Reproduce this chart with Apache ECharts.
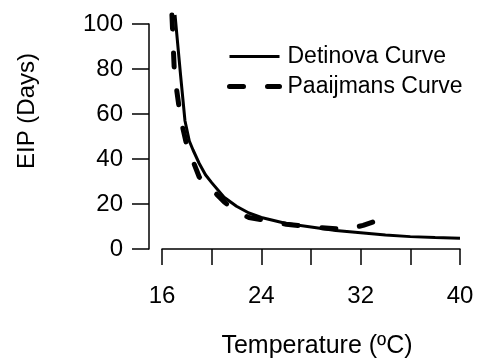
<!DOCTYPE html>
<html>
<head>
<meta charset="utf-8">
<script src="https://cdn.jsdelivr.net/npm/echarts@6/dist/echarts.min.js"></script>
<style>
  html, body { margin: 0; padding: 0; background: #fff; }
  #chart { width: 478px; height: 359px; }
</style>
</head>
<body>
<div id="chart"></div>
<script>
// values
const detinovaCurve = [
  [17.05, 104], [17.5, 77], [17.85, 57], [18.2, 48], [18.5, 44], [19, 38], [19.5, 33],
  [20, 29.5], [21, 23], [22, 19], [23, 16], [24, 14], [26, 11.3],
  [28, 9.8], [30, 8.2], [32, 7.2], [34, 6.2], [36, 5.5], [38, 5.1], [40, 4.8]
];
const paaijmansCurve = [
  [16.8, 104], [17.0, 78], [17.5, 58], [18, 46], [18.5, 39], [19, 32],
  [20, 26.5], [21, 21], [22, 16.5], [23, 14], [24, 13], [26, 11],
  [28, 9.8], [30, 9], [30.7, 8.5], [32.2, 10.5], [34, 14]
];
const xLabelsShown = [16, 24, 32, 40];

const font = '"Liberation Sans", Arial, Helvetica, sans-serif';
const solidStyle = { color: '#000', width: 3 };
const dashStyle = { color: '#000', width: 5, type: [14, 24], cap: 'round' };

const chart = echarts.init(document.getElementById('chart'));

chart.setOption({
  animation: false,
  color: ['#000', '#000'],
  legend: {
    orient: 'vertical',
    left: 222,
    top: 40,
    itemWidth: 50,
    itemHeight: 14,
    itemGap: 7,
    data: [
      { name: 'Detinova Curve', lineStyle: solidStyle },
      { name: 'Paaijmans Curve', lineStyle: dashStyle }
    ],
    itemStyle: { opacity: 0 },
    textStyle: { fontFamily: font, fontSize: 23, color: '#000', padding: [0, 0, 0, 3] }
  },
  grid: { left: 162, right: 18, top: 24, bottom: 110 },
  xAxis: {
    type: 'value',
    min: 16,
    max: 40,
    interval: 4,
    offset: 8,
    splitLine: { show: false },
    axisLine: { lineStyle: { color: '#000', width: 1.5 } },
    axisTick: { length: 16, lineStyle: { color: '#000', width: 1.5 } },
    axisLabel: {
      margin: 27,
      fontFamily: font,
      fontSize: 24,
      color: '#000',
      formatter: v => (xLabelsShown.includes(v) ? String(v) : '')
    }
  },
  yAxis: {
    type: 'value',
    min: 0,
    max: 100,
    interval: 20,
    offset: 13,
    splitLine: { show: false },
    axisLine: { show: true, lineStyle: { color: '#000', width: 1.5 } },
    axisTick: { show: true, length: 17, lineStyle: { color: '#000', width: 1.5 } },
    axisLabel: { margin: 26, fontFamily: font, fontSize: 24, color: '#000' }
  },
  graphic: [
    {
      type: 'text',
      x: 27,
      y: 111,
      rotation: Math.PI / 2,
      style: {
        text: 'EIP (Days)',
        fontFamily: font,
        fontSize: 24,
        fill: '#000',
        align: 'center',
        verticalAlign: 'middle'
      }
    },
    {
      type: 'text',
      x: 317,
      y: 346,
      style: {
        text: 'Temperature (ºC)',
        fontFamily: font,
        fontSize: 25,
        fill: '#000',
        align: 'center',
        verticalAlign: 'middle'
      }
    }
  ],
  series: [
    {
      name: 'Detinova Curve',
      type: 'line',
      data: detinovaCurve,
      symbol: 'none',
      clip: false,
      itemStyle: { color: '#000' },
      lineStyle: solidStyle
    },
    {
      name: 'Paaijmans Curve',
      type: 'line',
      data: paaijmansCurve,
      symbol: 'none',
      clip: false,
      itemStyle: { color: '#000' },
      lineStyle: dashStyle
    }
  ]
});
</script>
</body>
</html>
